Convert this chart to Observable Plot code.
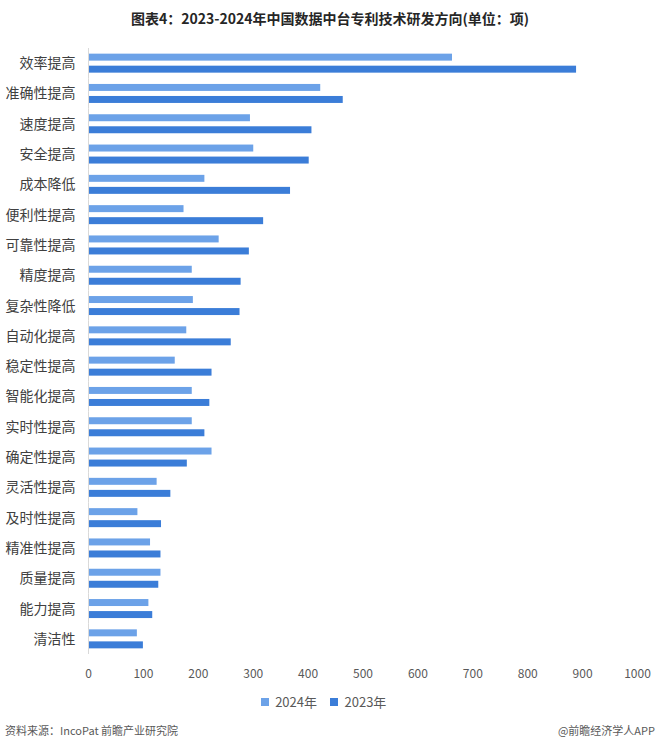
<!DOCTYPE html>
<html><head><meta charset="utf-8">
<script src="https://cdn.jsdelivr.net/npm/d3@7"></script>
<script src="https://cdn.jsdelivr.net/npm/@observablehq/plot@0.6"></script>
<style>
body{margin:0;background:#fff;font-family:"Noto Sans CJK SC","Noto Sans",sans-serif;width:660px;}
#title{height:36px;line-height:36px;text-align:center;font-weight:bold;font-size:14px;color:#262626;}
#chart svg{display:block;}
#chart svg g[aria-label^="fy-axis"] text{font-size:14px;}
#chart svg g[aria-label^="fy-axis"]{color:#404040;}
#legend{height:36px;box-sizing:border-box;padding-top:6px;display:flex;align-items:center;justify-content:center;}
#legend .plot-swatches{justify-content:center;font-size:13px;color:#595959;margin:0;}
#footer{display:flex;justify-content:space-between;padding:0 5px;font-size:11px;color:#595959;margin-top:2px;}
</style></head><body>
<div id="title">图表4：2023-2024年中国数据中台专利技术研发方向(单位：项)</div>
<div id="chart"></div>
<div id="legend"></div>
<div id="footer"><span>资料来源：IncoPat 前瞻产业研究院</span><span>@前瞻经济学人APP</span></div>
<script>
const categories = ["效率提高","准确性提高","速度提高","安全提高","成本降低","便利性提高","可靠性提高","精度提高","复杂性降低","自动化提高","稳定性提高","智能化提高","实时性提高","确定性提高","灵活性提高","及时性提高","精准性提高","质量提高","能力提高","清洁性"];
const values2024 = [663,423,295,301,212,174,238,189,191,179,158,189,189,225,125,90,113,132,110,89];
const values2023 = [889,464,407,402,368,319,293,278,276,260,225,221,212,180,150,133,132,128,117,100];
const years = ["2024年","2023年"];
const colors = ["#6ca2e8","#3b7dd8"];
const xTicks = [0,100,200,300,400,500,600,700,800,900,1000];

const data = categories.flatMap((c, i) => [
  {category: c, year: years[0], value: values2024[i]},
  {category: c, year: years[1], value: values2023[i]}
]);

const plot = Plot.plot({
  width: 660, height: 648,
  marginTop: 12, marginBottom: 30, marginLeft: 88, marginRight: 23,
  style: {fontFamily: '"Noto Sans CJK SC","Noto Sans",sans-serif', fontSize: "12px", color: "#595959", background: "transparent"},
  facet: {data, y: "category"},
  x: {domain: [0, 1000], ticks: xTicks, tickFormat: d => String(d), tickSize: 0, tickPadding: 15, label: null},
  y: {domain: years, axis: null, paddingInner: 0.42, paddingOuter: 0.47, round: false},
  fy: {domain: categories, axis: "left", paddingInner: 0, paddingOuter: 0, round: false, tickSize: 0, tickPadding: 13, label: null},
  color: {domain: years, range: colors},
  marks: [
    Plot.barX(data, {y: "year", x: "value", fill: "year"}),
    Plot.ruleX([0], {stroke: "#d9d9d9"})
  ]
});
document.getElementById("chart").appendChild(plot);

const legend = Plot.legend({color: {domain: years, range: colors}, swatchSize: 8, style: {fontFamily: '"Noto Sans CJK SC","Noto Sans",sans-serif', fontSize: "13px", color: "#595959"}});
document.getElementById("legend").appendChild(legend);
</script>
</body></html>
